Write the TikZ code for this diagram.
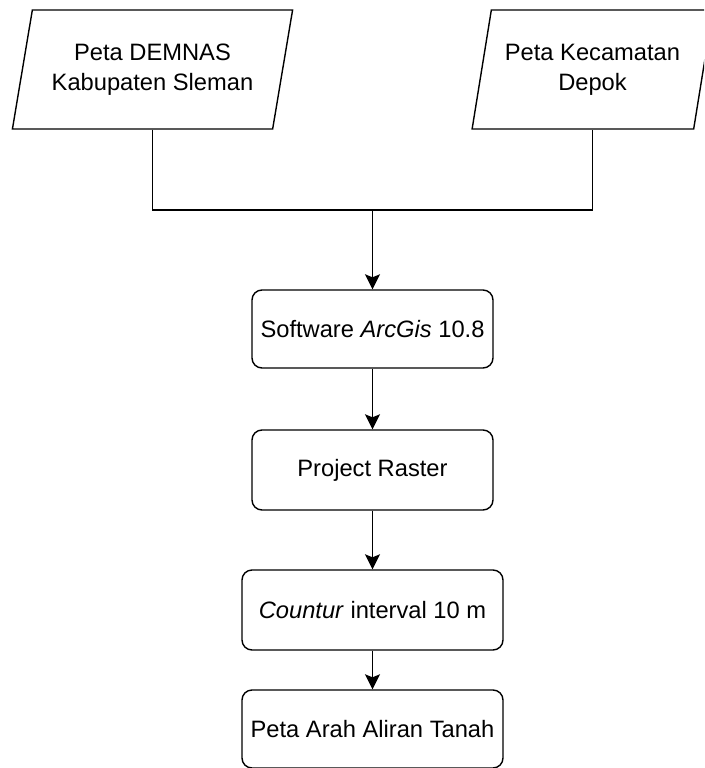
\documentclass[tikz,border=0pt]{standalone}
\usepackage{fontspec}
\setmainfont{Liberation Sans}
\usepackage{tikz}
\usetikzlibrary{positioning,shapes.geometric,arrows.meta}
\tikzset{masukan/.style={draw,trapezium,trapezium left angle=72,trapezium
right angle=108,trapezium stretches=true,minimum height=119pt,inner
sep=0pt,align=center,text=black},proses/.style={draw,rectangle,rounded
corners=10pt,minimum height=79pt,inner sep=0pt,align=center,text=black},
panah/.style={-{Stealth[length=15pt,width=15pt,inset=3pt]}}}

\begin{document}
\begin{tikzpicture}[x=1pt,y=-1pt,line width=1.4pt,
		font=\fontsize{23.7}{30}\selectfont]
		\clip (0,0) rectangle (704,768);
		% data masukan
		\node[masukan,minimum width=281pt] (demnas) at (152.5,69.5)
		{Peta DEMNAS\\Kabupaten Sleman};
		\node[masukan,minimum width=241pt] (depok) at (592.5,69.5)
		{Peta Kecamatan\\Depok};
		% tahapan
		\node[proses,minimum width=241pt,minimum height=78pt] (arcgis) at (372.5,329)
		{Software \textit{ArcGis} 10.8};
		\node[proses,minimum width=241pt,minimum height=80pt] (raster) at (372.5,470)
		{Project Raster};
		\node[proses,minimum width=261pt,minimum height=80pt] (kontur) at (372.5,610)
		{\textit{Countur} interval 10 m};
		\node[proses,minimum width=261pt,minimum height=78pt] (aliran) at (372.5,729)
		{Peta Arah Aliran Tanah};
		\coordinate (gabung) at (372.5,210);
		\draw (demnas.south) |- (gabung) -| (depok.south);
		\draw[panah] (gabung) -- (arcgis);
		\draw[panah] (arcgis) -- (raster);
		\draw[panah] (raster) -- (kontur);
		\draw[panah] (kontur) -- (aliran);
	\end{tikzpicture}
\end{document}
